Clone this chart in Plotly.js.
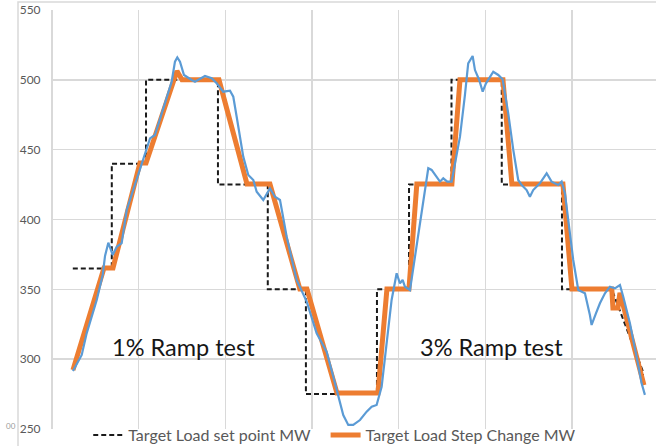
<!DOCTYPE html>
<html>
<head>
<meta charset="utf-8">
<script src="https://cdn.plot.ly/plotly-3.0.1.min.js"></script>
<style>html,body{margin:0;padding:0;overflow:hidden;background:#fff;}#chart{width:656px;height:446px;}</style>
</head>
<body>
<div id="chart"></div>
<script>
// Target Load set point MW (step function)
const setX = [2.4, 6.9, 6.9, 10.85, 10.85, 19.15, 19.15, 24.9, 24.9, 29.3, 29.3, 37.5, 37.5, 41.2, 41.2, 46.1, 46.1, 51.9, 51.9, 58.85, 58.85, 64.6, 68.2, 68.2];
const setY = [365, 365, 440, 440, 500, 500, 425, 425, 350, 350, 275, 275, 350, 350, 425, 425, 500, 500, 425, 425, 350, 350, 291, 282];

// Target Load Step Change MW (ramped)
const stepX = [2.42, 6.0, 7.04, 10.15, 10.85, 13.85, 14.42, 15.0, 19.27, 22.5, 25.15, 28.6, 29.42, 32.88, 37.61, 38.65, 41.19, 42.1, 46.15, 47.08, 52.04, 53.07, 58.96, 60.0, 64.6, 64.73, 65.3, 65.54, 68.31];
const stepY = [292.3, 365.3, 365.3, 440.5, 440.5, 496.3, 506.3, 500, 500, 425.4, 425.4, 350.2, 350.2, 275.8, 275.8, 350.2, 350.2, 425.4, 425.4, 500, 500, 425.4, 425.4, 350.2, 350.2, 336.6, 336.6, 347.4, 281.5];

// Actual unit load MW
const actX = [2.42, 3.43, 4.0, 5.16, 5.85, 6.12, 6.5, 7.0, 7.47, 8.04, 8.62, 10.35, 10.93, 11.31, 11.88, 12.46, 13.81, 14.19, 14.46, 14.77, 15.23, 16.12, 16.5, 17.65, 18.43, 19.0, 19.76, 20.54, 20.92, 21.31, 22.07, 22.65, 23.23, 23.62, 24.38, 25.15, 25.73, 26.31, 27.08, 28.23, 28.81, 29.39, 30.54, 31.69, 32.46, 33.03, 33.61, 34.19, 34.76, 35.54, 36.31, 36.89, 37.46, 38.04, 38.62, 39.19, 39.77, 40.15, 40.46, 40.73, 41.31, 43.42, 43.81, 44.77, 45.15, 45.61, 46.12, 46.69, 47.08, 47.65, 48.03, 48.54, 48.81, 49.3, 49.7, 50.08, 50.92, 51.5, 52.0, 52.65, 53.23, 53.8, 54.2, 54.77, 55.15, 55.53, 56.3, 57.08, 57.65, 58.42, 58.81, 59.19, 60.15, 60.73, 61.5, 62.07, 62.27, 62.77, 63.23, 63.81, 64.38, 64.96, 65.54, 65.92, 66.69, 67.46, 68.04, 68.42];
const actY = [291.5, 303.0, 318.5, 342.4, 360.3, 373.9, 383.4, 374.6, 380.5, 383.0, 406.8, 440.2, 449.8, 458.1, 460.5, 472.5, 498.7, 513.0, 516.1, 513.0, 503.5, 499.9, 498.7, 502.7, 501.1, 497.5, 491.5, 492.2, 487.9, 473.6, 445.0, 431.9, 428.3, 419.9, 414.0, 422.3, 416.3, 414.0, 387.7, 356.7, 348.3, 341.2, 318.5, 305.4, 287.5, 273.1, 260.0, 252.9, 252.9, 256.4, 262.4, 266.0, 267.2, 280.3, 311.4, 342.4, 361.5, 354.3, 356.7, 351.9, 349.5, 436.7, 435.5, 427.1, 429.5, 427.1, 427.1, 447.4, 459.3, 489.1, 511.8, 517.1, 507.0, 499.9, 491.5, 497.5, 505.8, 503.5, 500.4, 476.0, 449.8, 428.3, 424.7, 421.1, 416.3, 421.1, 425.9, 433.1, 427.1, 424.7, 427.1, 418.8, 371.0, 349.5, 347.2, 331.6, 324.5, 332.8, 340.0, 347.2, 351.9, 350.7, 353.1, 344.7, 325.7, 301.8, 282.7, 274.4];

const yTicks = [250, 300, 350, 400, 450, 500, 550];
const labels = ["1% Ramp test", "3% Ramp test"];
const labelX = [15.23, 50.73];
const labelY = [308.8, 308.8];

const traces = [
  {x: setX, y: setY, mode: 'lines', name: 'Target Load set point MW',
   line: {color: '#1a1a1a', width: 2, dash: '5px,3px'}, legend: 'legend', hoverinfo: 'skip'},
  {x: stepX, y: stepY, mode: 'lines', name: 'Target Load Step Change MW',
   line: {color: '#ED7D31', width: 5}, legend: 'legend2', hoverinfo: 'skip'},
  {x: actX, y: actY, mode: 'lines', name: 'Actual MW', showlegend: false,
   line: {color: '#5B9BD5', width: 2.2}, hoverinfo: 'skip'}
];

const grid = '#d9d9d9';
const layout = {
  width: 656, height: 446,
  margin: {l: 52, r: 0, t: 10, b: 17, autoexpand: false},
  paper_bgcolor: '#fff', plot_bgcolor: '#fff',
  font: {family: 'Lato, "Open Sans", sans-serif', color: '#595959'},
  xaxis: {range: [0, 69.7], dtick: 10, tick0: 0, showticklabels: false, ticks: '',
          showgrid: true, gridcolor: grid, gridwidth: 1.5,
          zeroline: true, zerolinecolor: grid, zerolinewidth: 1.5, showline: false, fixedrange: true},
  yaxis: {range: [250, 550], tickvals: yTicks, ticks: 'outside', ticklen: 8, tickcolor: 'rgba(0,0,0,0)',
          tickfont: {size: 12, color: '#595959', family: 'Lato, sans-serif'},
          showgrid: true, gridcolor: grid, gridwidth: 1.5, zeroline: false, showline: false, fixedrange: true},
  showlegend: true,
  legend: {orientation: 'h', x: 0.06, y: -0.0143, xanchor: 'left', yanchor: 'middle',
           bgcolor: 'rgba(0,0,0,0)', font: {size: 16, color: '#595959'}},
  legend2: {orientation: 'h', x: 0.453, y: -0.0143, xanchor: 'left', yanchor: 'middle',
           bgcolor: 'rgba(0,0,0,0)', font: {size: 16, color: '#595959'}},
  annotations: [
    {text: labels[0], x: labelX[0], y: labelY[0], xref: 'x', yref: 'y', showarrow: false,
     font: {size: 23.5, color: '#161616', family: 'Lato, sans-serif'}},
    {text: labels[1], x: labelX[1], y: labelY[1], xref: 'x', yref: 'y', showarrow: false,
     font: {size: 23.5, color: '#161616', family: 'Lato, sans-serif'}},
    {text: '00', x: -0.079, y: -0.0095, xref: 'paper', yref: 'paper', showarrow: false,
     font: {size: 8, color: '#9a9a9a'}}
  ],
  shapes: [
    {type: 'path', xref: 'paper', yref: 'paper', path: 'M -0.0563,-0.05 L -0.0563,1.0191 L 1.02,1.0191',
     line: {color: '#d9d9d9', width: 1.5}}
  ]
};

Plotly.newPlot('chart', traces, layout, {displayModeBar: false, staticPlot: true});
</script>
</body>
</html>
